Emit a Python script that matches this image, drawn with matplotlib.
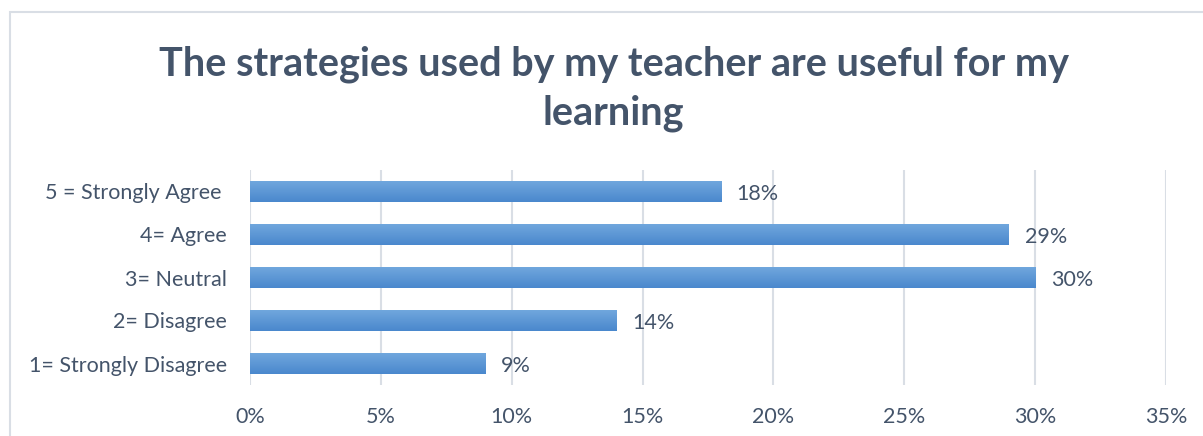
import numpy as np
import matplotlib
matplotlib.use("Agg")
import matplotlib.pyplot as plt
from matplotlib.patches import Rectangle
from matplotlib.ticker import PercentFormatter

categories = ["1= Strongly Disagree", "2= Disagree", "3= Neutral", "4= Agree", "5 = Strongly Agree "]
values = [9, 14, 30, 29, 18]
xticks = [0, 5, 10, 15, 20, 25, 30, 35]
title = "The strategies used by my teacher are useful for my\nlearning"

text_col = "#44546A"
grid_col = "#D9DEE5"

plt.rcParams['font.family'] = ['Lato', 'DejaVu Sans']

fig = plt.figure(figsize=(12.03, 4.36), dpi=100)
fig.patch.set_facecolor("white")

# chart border (only top and left edges visible in the crop)
fig.add_artist(Rectangle((10 / 1203, -0.05), 1.1, 1 - 12 / 436 + 0.05,
                         transform=fig.transFigure, fill=False,
                         edgecolor=grid_col, linewidth=1.5))

ax = fig.add_axes([250 / 1203, 1 - 385 / 436, (1166 - 250) / 1203, 215 / 436])
y = np.arange(len(categories))
bars = ax.barh(y, values, height=0.51, color="#5B9BD5", zorder=3)

# excel-like vertical gradient on each bar
grad = np.linspace(0, 1, 64).reshape(-1, 1)
cmap = matplotlib.colors.LinearSegmentedColormap.from_list("bar", ["#4A88CD", "#72A8DE"])
for b in bars:
    x0, y0 = b.get_x(), b.get_y()
    w, h = b.get_width(), b.get_height()
    im = ax.imshow(grad, extent=[x0, x0 + w, y0, y0 + h], origin="lower",
                   cmap=cmap, aspect="auto", zorder=4)
    im.set_clip_path(b)

for yi, v in zip(y, values):
    ax.text(v + 0.6, yi - 0.05, f"{v}%", va="center", ha="left",
            fontsize=15.5, color=text_col, zorder=5)

ax.set_xlim(0, 35)
ax.set_ylim(-0.5, len(categories) - 0.5)
ax.set_xticks(xticks)
ax.xaxis.set_major_formatter(PercentFormatter(decimals=0))
ax.set_yticks(y)
ax.set_yticklabels(categories)
ax.tick_params(axis="both", length=0, labelsize=15.5, colors=text_col)
ax.tick_params(axis="x", pad=16)
ax.tick_params(axis="y", pad=16.5)
ax.grid(axis="x", color=grid_col, linewidth=1.5, zorder=0)
for s in ax.spines.values():
    s.set_visible(False)

fig.text(0.51, 1 - 125 / 436, title, ha="center", va="baseline", fontsize=28.5,
         fontweight="bold", color=text_col, linespacing=1.4)

fig.savefig("out.png", dpi=100)
